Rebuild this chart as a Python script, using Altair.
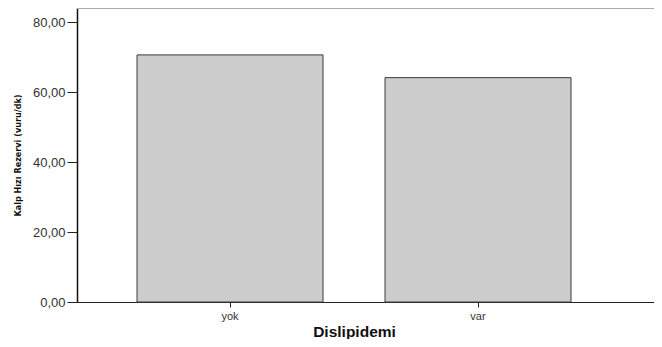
import altair as alt
import pandas as pd

categories = ["yok", "var"]
values = [70.6, 64.1]
y_ticks = [0, 20, 40, 60, 80]
y_max = 84

df = pd.DataFrame({"Dislipidemi": categories, "value": values})

bars = alt.Chart(df).mark_bar(
    color="#cccccc", stroke="#3a3a3a", strokeWidth=1
).encode(
    x=alt.X(
        "Dislipidemi:N",
        sort=categories,
        scale=alt.Scale(paddingInner=0.25, paddingOuter=0.2883, align=0.4196),
        axis=alt.Axis(
            title="Dislipidemi",
            labelAngle=0,
            labelFont="Liberation Sans",
            labelFontSize=11,
            labelColor="#333333",
            labelPadding=3,
            tickSize=5,
            tickColor="#222222",
            domainColor="#222222",
            domainWidth=1.2,
            titleFont="Liberation Sans",
            titleFontSize=15.5,
            titleFontWeight="bold",
            titleColor="#111111",
            titleX=277,
            titleY=34,
            titleAnchor="start",
            titleAlign="center",
            titleBaseline="alphabetic",
        ),
    ),
    y=alt.Y(
        "value:Q",
        scale=alt.Scale(domain=[0, y_max], nice=False, zero=True),
        axis=alt.Axis(
            title="Kalp Hızı Rezervi (vuru/dk)",
            values=y_ticks,
            labelExpr="replace(format(datum.value, '.2f'), '.', ',')",
            labelFont="Liberation Sans",
            labelFontSize=13,
            labelColor="#333333",
            labelPadding=2,
            tickSize=10,
            tickColor="#222222",
            domainColor="#111111",
            domainWidth=1.5,
            grid=False,
            titleFont="Liberation Sans Narrow, DejaVu Sans Condensed, Liberation Sans, sans-serif",
            titleFontSize=9,
            titleFontWeight="bold",
            titleColor="#111111",
            titleAngle=270,
            titleX=-60,
            titleY=147,
            titleAlign="center",
            titleBaseline="middle",
        ),
    ),
)

top_line = alt.Chart(df).mark_rule(color="#aaaaaa", strokeWidth=2).encode(
    y=alt.datum(y_max)
)

chart = alt.layer(bars, top_line).properties(
    width=577,
    height=294,
    autosize=alt.AutoSizeParams(type="none"),
    padding={"left": 69, "top": 0, "right": 0, "bottom": 37},
).configure_view(
    stroke=None, strokeWidth=0
).configure(background="white")

chart.save("out.html", embed_options={"renderer": "svg", "actions": False})
